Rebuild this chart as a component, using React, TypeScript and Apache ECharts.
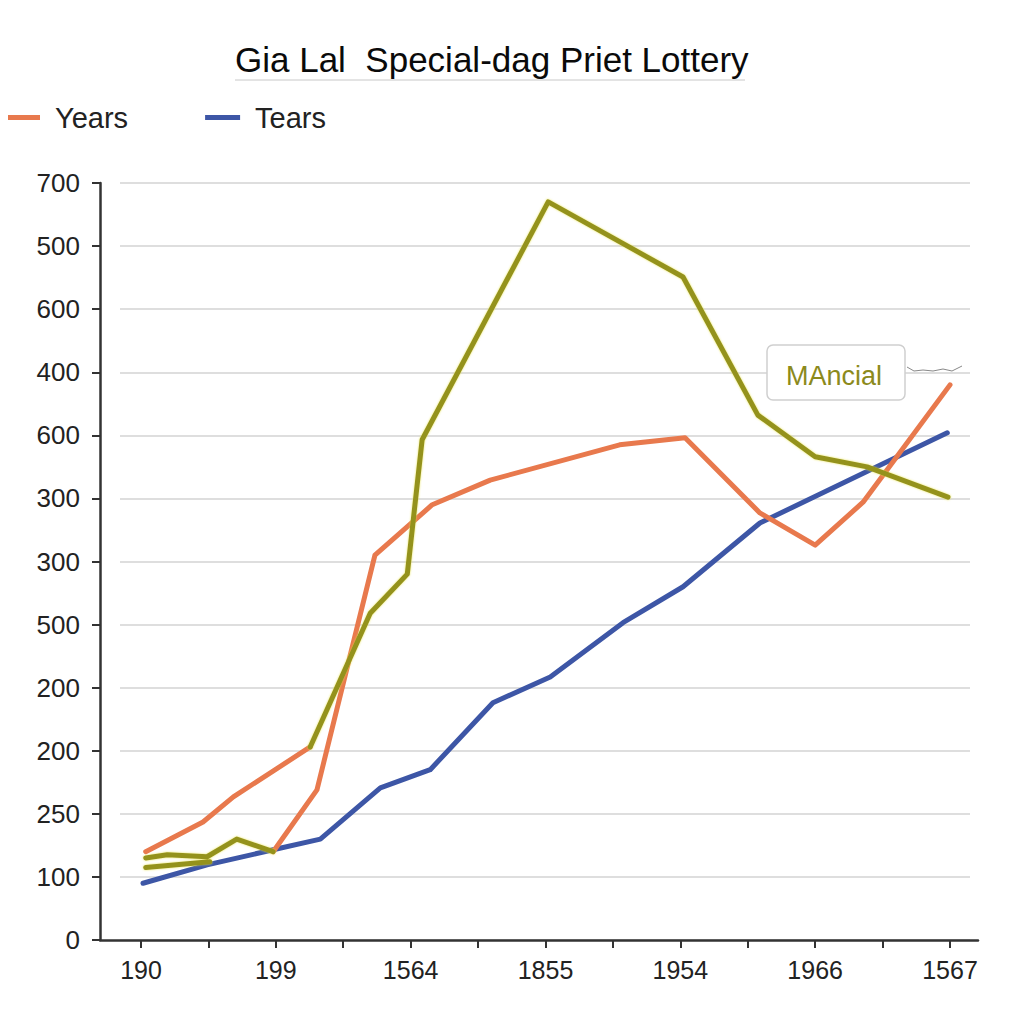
import React, { useEffect, useRef } from "react";
import * as echarts from "echarts";

const titleText = "Gia Lal  Special-dag Priet Lottery";
const yTickLabels = ["0", "100", "250", "200", "200", "500", "300", "300", "600", "400", "600", "500", "700"];
const xTickLabels = ["190", "199", "1564", "1855", "1954", "1966", "1567"];
const xTickSlots = [0, 2, 4, 6, 8, 10, 12];
const allTickSlots = [0, 1, 2, 3, 4, 5, 6, 7, 8, 9, 10, 11, 12];

// "Years" (orange) — two strokes, null = gap
const yearsX = [0.07, 0.92, 1.37, 2.51, null, 1.96, 2.61, 3.47, 4.32, 5.18, 7.1, 8.07, 9.18, 10.0, 10.71, 12.0];
const yearsY = [1.4, 1.87, 2.27, 3.06, null, 1.4, 2.38, 6.1, 6.9, 7.29, 7.85, 7.96, 6.77, 6.26, 6.94, 8.8];

// "Tears" (blue)
const tearsX = [0.03, 0.98, 1.96, 2.66, 3.55, 4.29, 5.22, 6.07, 7.15, 8.04, 9.18, 11.96];
const tearsY = [0.9, 1.19, 1.43, 1.6, 2.41, 2.7, 3.76, 4.17, 5.03, 5.6, 6.61, 8.04];

// "MAncial" (olive)
const mancialX = [0.07, 0.39, 0.98, 1.42, 1.96, null, 2.51, 3.4, 3.95, 4.17, 6.04, 8.04, 9.15, 10.0, 10.77, 11.97, null, 0.07, 1.02];
const mancialY = [1.3, 1.35, 1.32, 1.6, 1.4, null, 3.06, 5.18, 5.8, 7.93, 11.7, 10.51, 8.32, 7.66, 7.5, 7.02, null, 1.15, 1.24];

const annotationText = "MAncial";

function pairs(xs: (number | null)[], ys: (number | null)[]) {
  return xs.map((x, i) => (x === null || ys[i] === null ? ["-", "-"] : [x, ys[i]]));
}

export default function App() {
  const ref = useRef<HTMLDivElement>(null);
  useEffect(() => {
    if (!ref.current) return;
    const chart = echarts.init(ref.current, null, { renderer: "svg" });
    const font = "'Liberation Sans', Arial, sans-serif";
    chart.setOption({
      animation: false,
      backgroundColor: "#ffffff",
      title: {
        text: titleText,
        left: 235,
        top: 42,
        padding: 0,
        textStyle: { fontFamily: font, fontSize: 35, fontWeight: "normal", color: "#0a0a0a" },
      },
      legend: {
        data: ["Years", "Tears"],
        left: 0,
        top: 98,
        itemWidth: 35,
        itemHeight: 5,
        itemGap: 77,
        icon: "rect",
        textStyle: { fontFamily: font, fontSize: 29, color: "#222", padding: [0, 0, 0, 10] },
      },
      grid: [
        { left: 100, right: 46, top: 183, bottom: 84 },
        { left: 120, right: 54, top: 183, bottom: 84 },
      ],
      xAxis: [
        {
          type: "value",
          gridIndex: 0,
          min: -0.608,
          max: 12.415,
          splitLine: { show: false },
          axisLine: { show: true, onZero: false, lineStyle: { color: "#333", width: 2.5 } },
          axisTick: {
            show: true,
            customValues: allTickSlots,
            length: 8,
            lineStyle: { color: "#333", width: 2 },
          },
          axisLabel: {
            customValues: xTickSlots,
            margin: 17,
            fontFamily: font,
            fontSize: 25,
            color: "#222",
            formatter: (v: number) => xTickLabels[xTickSlots.indexOf(Math.round(v))] ?? "",
          },
        },
        { type: "value", gridIndex: 1, min: 0, max: 1, show: false },
      ],
      yAxis: [
        {
          type: "value",
          gridIndex: 0,
          min: 0,
          max: 12,
          interval: 1,
          splitLine: { show: false },
          axisLine: { show: true, onZero: false, lineStyle: { color: "#333", width: 2.5 } },
          axisTick: { show: true, length: 8, lineStyle: { color: "#333", width: 2 } },
          axisLabel: {
            margin: 20,
            fontFamily: font,
            fontSize: 26,
            color: "#222",
            formatter: (v: number) => yTickLabels[Math.round(v)] ?? "",
          },
        },
        {
          type: "value",
          gridIndex: 1,
          min: 0,
          max: 12,
          interval: 1,
          axisLine: { show: false },
          axisTick: { show: false },
          axisLabel: { show: false },
          splitLine: { show: true, lineStyle: { color: "#dedede", width: 2 } },
        },
      ],
      series: [
        {
          name: "Tears",
          type: "line",
          xAxisIndex: 0,
          yAxisIndex: 0,
          data: pairs(tearsX, tearsY),
          symbol: "none",
          color: "#3D56A6",
          lineStyle: { width: 5, color: "#3D56A6", cap: "round", join: "round" },
        },
        {
          name: "Years",
          type: "line",
          xAxisIndex: 0,
          yAxisIndex: 0,
          data: pairs(yearsX, yearsY),
          symbol: "none",
          connectNulls: false,
          color: "#E8794D",
          lineStyle: { width: 5, color: "#E8794D", cap: "round", join: "round" },
        },
        {
          name: "MAncial",
          type: "line",
          xAxisIndex: 0,
          yAxisIndex: 0,
          data: pairs(mancialX, mancialY),
          symbol: "none",
          connectNulls: false,
          color: "#94921E",
          lineStyle: {
            width: 5,
            color: "#94921E",
            cap: "round",
            join: "round",
            shadowColor: "rgba(230,225,60,0.8)",
            shadowBlur: 2,
          },
        },
      ],
      graphic: [
        {
          type: "line",
          shape: { x1: 235, y1: 80, x2: 745, y2: 80 },
          style: { stroke: "#c8c8c8", lineWidth: 1 },
        },
        {
          type: "rect",
          shape: { x: 767, y: 345, width: 138, height: 55, r: 6 },
          style: { fill: "#ffffff", stroke: "#cfcfcf", lineWidth: 1.5 },
          z: 100,
        },
        {
          type: "text",
          x: 834,
          y: 376,
          z: 101,
          style: {
            text: annotationText,
            fill: "#8C8A1C",
            font: "27px 'Liberation Sans', Arial, sans-serif",
            align: "center",
            verticalAlign: "middle",
          },
        },
        {
          type: "polyline",
          z: 101,
          shape: {
            points: [
              [907, 367],
              [914, 371],
              [923, 370],
              [933, 371],
              [943, 369],
              [952, 371],
              [962, 366],
            ],
          },
          style: { stroke: "#888", lineWidth: 1, fill: "none" },
        },
      ],
    });
    return () => chart.dispose();
  }, []);
  return <div ref={ref} style={{ width: 1024, height: 1024, margin: -8 }} />;
}
